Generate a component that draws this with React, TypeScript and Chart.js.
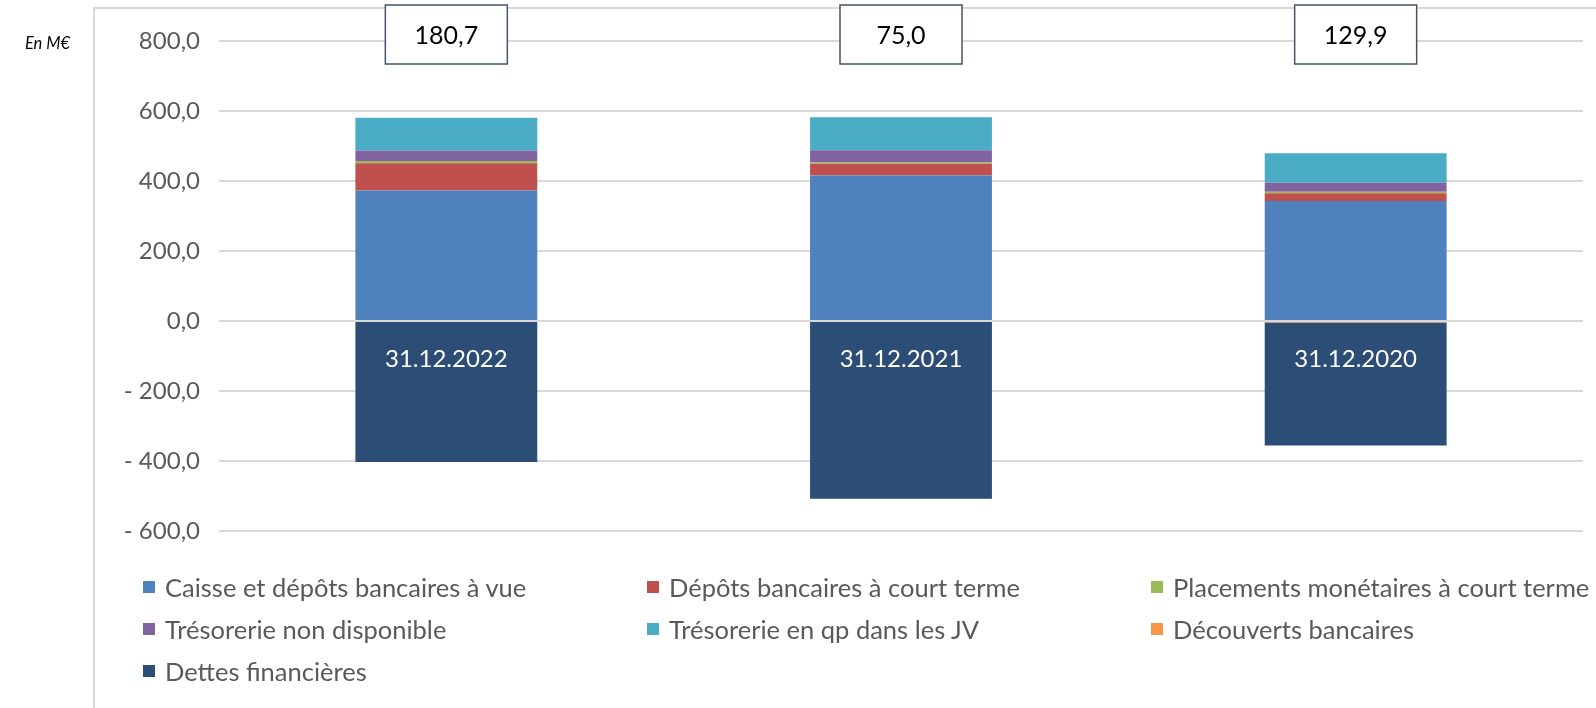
import React, { useEffect, useRef } from "react";
import { Chart, registerables } from "chart.js";

Chart.register(...registerables);

const categories = ["31.12.2022", "31.12.2021", "31.12.2020"];
const caisse = [373, 416, 343];
const depotsCT = [78, 33, 22];
const placements = [6, 4, 4];
const tresoNonDispo = [30, 35, 26];
const tresoJV = [94, 94, 84];
const decouverts = [0, 0, -4];
const dettes = [-403, -508, -352];
const netLabels = [180.7, 75.0, 129.9];
const yTicks = [-600, -400, -200, 0, 200, 400, 600, 800];

const seriesNames = [
  "Caisse et dépôts bancaires à vue",
  "Dépôts bancaires à court terme",
  "Placements monétaires à court terme",
  "Trésorerie non disponible",
  "Trésorerie en qp dans les JV",
  "Découverts bancaires",
  "Dettes financières",
];
const seriesColors = ["#4F81BD", "#C0504D", "#9BBB59", "#8064A2", "#4BACC6", "#F79646", "#2C4D75"];
const seriesValues = [caisse, depotsCT, placements, tresoNonDispo, tresoJV, decouverts, dettes];

const FONT = "Lato, 'Open Sans', sans-serif";

const fmt = (v: number) => {
  const s = Math.abs(v).toFixed(1).replace(".", ",");
  return v < 0 ? "- " + s : s;
};

const overlayPlugin = {
  id: "overlay",
  afterDatasetsDraw(chart: any) {
    const { ctx, chartArea, scales } = chart;
    const y0 = scales.y.getPixelForValue(0);
    ctx.save();
    ctx.strokeStyle = "#D9D9D9";
    ctx.lineWidth = 2;
    ctx.beginPath();
    ctx.moveTo(chartArea.left, y0);
    ctx.lineTo(chartArea.right, y0);
    ctx.stroke();
    ctx.fillStyle = "#FFFFFF";
    ctx.font = `24px ${FONT}`;
    ctx.textAlign = "center";
    ctx.textBaseline = "middle";
    categories.forEach((c, i) => {
      const x = scales.x.getPixelForValue(i);
      ctx.fillText(c, x, y0 + 38);
    });
    netLabels.forEach((v, i) => {
      const x = scales.x.getPixelForValue(i);
      const w = 122;
      const h = 59;
      const top = 5;
      ctx.fillStyle = "#FFFFFF";
      ctx.fillRect(x - w / 2, top, w, h);
      ctx.strokeStyle = "#44546A";
      ctx.lineWidth = 1.5;
      ctx.strokeRect(x - w / 2, top, w, h);
      ctx.fillStyle = "#000000";
      ctx.font = `25px ${FONT}`;
      ctx.fillText(fmt(v), x, top + h / 2 + 1);
    });
    ctx.restore();
  },
};

export default function App() {
  const ref = useRef<HTMLCanvasElement | null>(null);
  useEffect(() => {
    if (!ref.current) return;
    const chart = new Chart(ref.current, {
      type: "bar",
      data: {
        labels: categories,
        datasets: seriesNames.map((n, i) => ({
          label: n,
          data: seriesValues[i],
          backgroundColor: seriesColors[i],
          borderWidth: 0,
          barPercentage: 0.4,
          categoryPercentage: 1,
        })),
      },
      options: {
        animation: false,
        responsive: false,
        maintainAspectRatio: false,
        layout: { padding: { left: 0, right: 13, top: 41, bottom: 177 } },
        plugins: { legend: { display: false }, tooltip: { enabled: false } },
        scales: {
          x: { stacked: true, display: false },
          y: {
            stacked: true,
            min: -600,
            max: 800,
            afterFit: (s: any) => {
              s.width = 219;
            },
            afterBuildTicks: (s: any) => {
              s.ticks = yTicks.map((v) => ({ value: v }));
            },
            grid: { color: "#D9D9D9", lineWidth: 2, drawTicks: false },
            border: { display: false },
            ticks: {
              padding: 19,
              color: "#595959",
              font: { family: FONT, size: 24 },
              callback: (v: any) => fmt(Number(v)),
            },
          },
        },
      },
      plugins: [overlayPlugin],
    });
    return () => chart.destroy();
  }, []);

  const legendCols = [143, 647, 1151];
  const legendRows = [587, 629, 671];
  return (
    <div style={{ position: "absolute", left: 0, top: 0, width: 1596, height: 708, overflow: "hidden", background: "#fff" }}>
      <div
        style={{
          position: "absolute",
          left: 93,
          top: 7,
          width: 1600,
          height: 800,
          borderLeft: "2px solid #D9D9D9",
          borderTop: "2px solid #D9D9D9",
        }}
      />
      <canvas ref={ref} width={1596} height={708} style={{ position: "absolute", left: 0, top: 0 }} />
      <div
        style={{
          position: "absolute",
          right: 1596 - 70,
          top: 43,
          transform: "translateY(-50%)",
          fontFamily: FONT,
          fontStyle: "italic",
          fontSize: 16.5,
          color: "#000",
          whiteSpace: "nowrap",
        }}
      >
        En M€
      </div>
      {seriesNames.map((n, i) => (
        <div
          key={n}
          style={{
            position: "absolute",
            left: legendCols[i % 3],
            top: legendRows[Math.floor(i / 3)],
            transform: "translateY(-50%)",
            display: "flex",
            alignItems: "center",
            fontFamily: FONT,
            fontSize: 25.5,
            color: "#595959",
            whiteSpace: "nowrap",
          }}
        >
          <span style={{ display: "inline-block", width: 12, height: 12, background: seriesColors[i], marginRight: 10 }} />
          <span>{n}</span>
        </div>
      ))}
    </div>
  );
}
